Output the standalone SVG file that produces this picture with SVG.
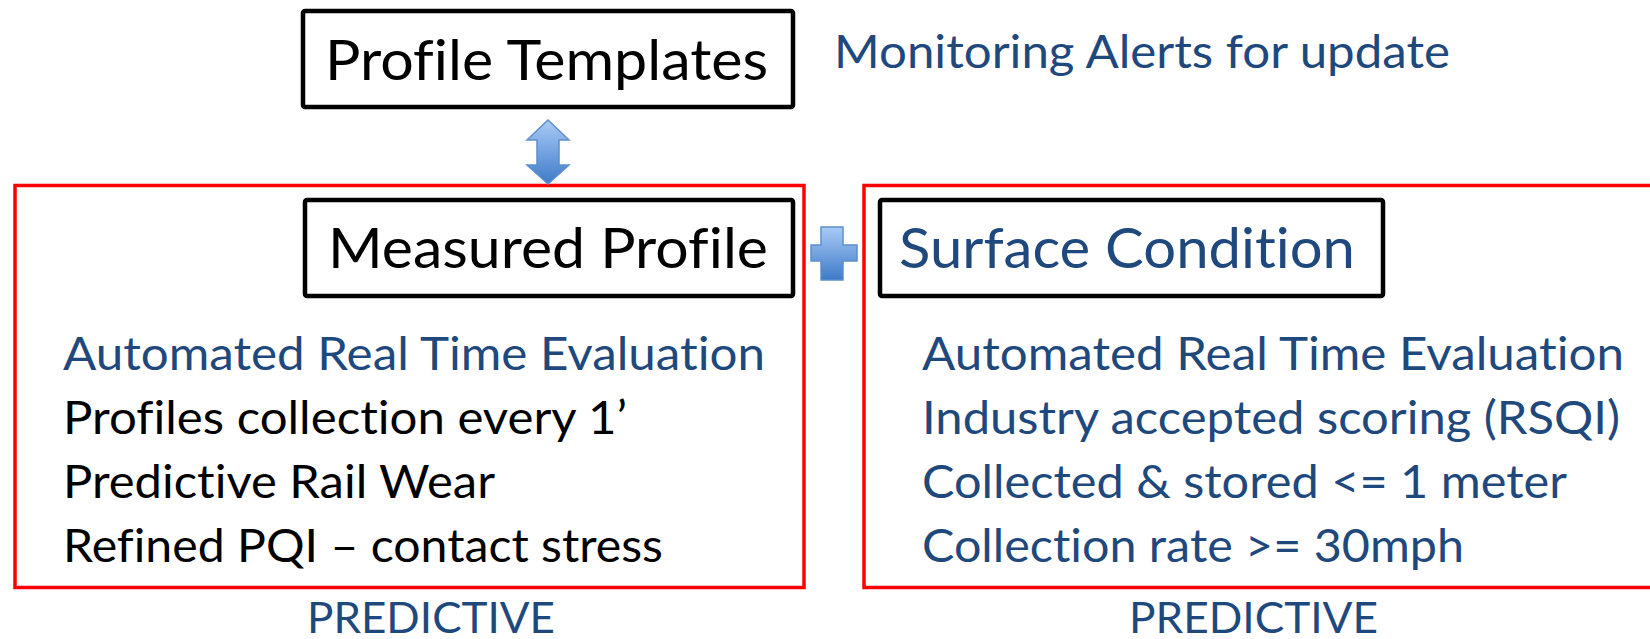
<svg xmlns="http://www.w3.org/2000/svg" width="1650" height="639" viewBox="0 0 1650 639">
<style>
  text { font-variant-ligatures: none; font-feature-settings: "liga" 0; }
  .blk { fill: #FFFFFF; stroke: #000000; stroke-width: 4.5; }
  .red { fill: none; stroke: #FF0000; stroke-width: 3.5; }
  .big { font-family: Lato, "Open Sans", sans-serif; font-size: 56px; }
  .item { font-family: Lato, "Open Sans", sans-serif; font-size: 46px; }
  .lbl { font-family: Lato, "Open Sans", sans-serif; font-size: 43px; }
  .k { fill: #000000; }
  .b { fill: #1F497D; }
  .shape { fill: url(#blueGrad); stroke: #5F8FCC; stroke-width: 1.5; }
</style>
<defs>
  <linearGradient id="blueGrad" x1="0" y1="0" x2="0" y2="1">
    <stop offset="0" stop-color="#A9CBF7"/>
    <stop offset="1" stop-color="#3E7AC8"/>
  </linearGradient>
</defs>
<rect width="1650" height="639" fill="#FFFFFF"/>

<g id="group-left">
  <rect class="red" x="15" y="185.5" width="789" height="402"/>
</g>
<g id="group-right">
  <rect class="red" x="864" y="185.5" width="800" height="402"/>
</g>

<g id="profile-templates">
  <rect class="blk" x="303" y="11" width="490" height="96" rx="2"/>
  <text class="big k" x="325" y="80" textLength="443" lengthAdjust="spacingAndGlyphs">Profile Templates</text>
</g>

<g id="monitoring-alerts">
  <text class="item b" x="834" y="68" textLength="616" lengthAdjust="spacingAndGlyphs">Monitoring Alerts for update</text>
</g>

<g id="measured-profile">
  <rect class="blk" x="305" y="200" width="488" height="96" rx="2"/>
  <text class="big k" x="328" y="268" textLength="440" lengthAdjust="spacingAndGlyphs">Measured Profile</text>
</g>

<g id="surface-condition">
  <rect class="blk" x="880" y="200" width="503" height="96" rx="2"/>
  <text class="big b" x="899" y="268" textLength="456" lengthAdjust="spacingAndGlyphs">Surface Condition</text>
</g>

<g id="left-list">
  <text class="item b" x="63" y="370" textLength="702" lengthAdjust="spacingAndGlyphs">Automated Real Time Evaluation</text>
  <text class="item k" x="63" y="434" textLength="564" lengthAdjust="spacingAndGlyphs">Profiles collection every 1’</text>
  <text class="item k" x="63" y="498" textLength="432" lengthAdjust="spacingAndGlyphs">Predictive Rail Wear</text>
  <text class="item k" x="63" y="562" textLength="600" lengthAdjust="spacingAndGlyphs">Refined PQI – contact stress</text>
</g>

<g id="right-list">
  <text class="item b" x="922" y="370" textLength="702" lengthAdjust="spacingAndGlyphs">Automated Real Time Evaluation</text>
  <text class="item b" x="922" y="434" textLength="698" lengthAdjust="spacingAndGlyphs">Industry accepted scoring (RSQI)</text>
  <text class="item b" x="922" y="498" textLength="645" lengthAdjust="spacingAndGlyphs">Collected &amp; stored &lt;= 1 meter</text>
  <text class="item b" x="922" y="562" textLength="542" lengthAdjust="spacingAndGlyphs">Collection rate &gt;= 30mph</text>
</g>

<g id="predictive-left">
  <text class="lbl b" x="307" y="633" textLength="248" lengthAdjust="spacingAndGlyphs">PREDICTIVE</text>
</g>
<g id="predictive-right">
  <text class="lbl b" x="1129" y="633" textLength="249" lengthAdjust="spacingAndGlyphs">PREDICTIVE</text>
</g>

<g id="connectors">
  <path class="shape" d="M548,120 L569,140 L559,140 L559,165 L569,165 L548,184 L527,165 L537,165 L537,140 L527,140 Z"/>
  <path class="shape" d="M821,227 H843 V245 H857 V261 H843 V280 H821 V261 H811 V245 H821 Z"/>
</g>
</svg>
